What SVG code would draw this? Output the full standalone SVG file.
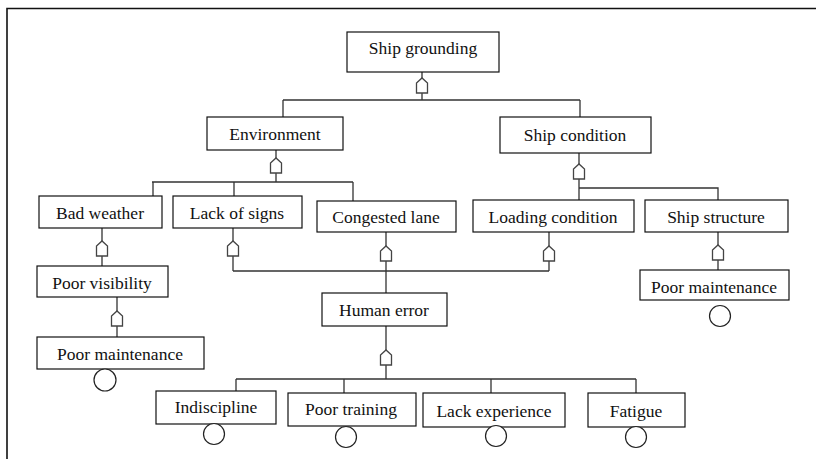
<svg xmlns="http://www.w3.org/2000/svg" xmlns:xlink="http://www.w3.org/1999/xlink" width="816" height="459" viewBox="0 0 816 459">
<style>
.box{fill:#fff;stroke:#111;stroke-width:1.2}
.lbl{font-family:"Liberation Serif","Times New Roman",serif;font-size:17.5px;fill:#111;text-anchor:middle}
.ln{stroke:#333;stroke-width:1.3;fill:none}
.gate{fill:#fff;stroke:#444;stroke-width:1.3}
.ev{fill:#fff;stroke:#222;stroke-width:1.2}
</style>
<defs>
<path id="g" class="gate" d="M-5.5,15 V5 L0,0 L5.5,5 V15 Z"/>
</defs>
<rect width="816" height="459" fill="#fff"/>
<path d="M7,459 V8.5 H816" stroke="#111" stroke-width="1.6" fill="none"/>
<g id="connectors">
<path class="ln" d="M422,72V78 M422,93V100 M283,100H580 M283,100V117 M580,100V117"/>
<use xlink:href="#g" x="422" y="78"/>
<path class="ln" d="M276,150V158 M276,173V182 M152,182H353 M153,182V196 M234,182V196 M353,182V201"/>
<use xlink:href="#g" x="276" y="158"/>
<path class="ln" d="M579,153V164 M579,179V200 M579,188H718V200"/>
<use xlink:href="#g" x="579" y="164"/>
<path class="ln" d="M102,228V241 M102,256V266"/>
<use xlink:href="#g" x="102" y="241"/>
<path class="ln" d="M117,297V311 M117,326V337"/>
<use xlink:href="#g" x="117" y="311"/>
<path class="ln" d="M233,228V241 M233,256V271 M386,232V246 M386,261V293 M549,232V246 M549,261V271 M233,271H549"/>
<use xlink:href="#g" x="233" y="241"/>
<use xlink:href="#g" x="386" y="246"/>
<use xlink:href="#g" x="549" y="246"/>
<path class="ln" d="M386,326V350 M386,365V379 M236,379H636 M236,379V391 M344,379V393 M491,379V393 M636,379V393"/>
<use xlink:href="#g" x="386" y="350"/>
<path class="ln" d="M718,232V245 M718,260V270"/>
<use xlink:href="#g" x="718" y="245"/>
</g>
<g id="n-ship-grounding"><rect class="box" x="347" y="32" width="152" height="40"/><text class="lbl" x="423" y="54">Ship grounding</text></g>
<g id="n-environment"><rect class="box" x="207" y="117" width="136" height="33"/><text class="lbl" x="275" y="140">Environment</text></g>
<g id="n-ship-condition"><rect class="box" x="500" y="117" width="151" height="36"/><text class="lbl" x="575" y="141">Ship condition</text></g>
<g id="n-bad-weather"><rect class="box" x="39" y="196" width="123" height="32"/><text class="lbl" x="100" y="219">Bad weather</text></g>
<g id="n-lack-of-signs"><rect class="box" x="173" y="196" width="129" height="32"/><text class="lbl" x="237" y="219">Lack of signs</text></g>
<g id="n-congested-lane"><rect class="box" x="317" y="201" width="139" height="31"/><text class="lbl" x="386" y="223">Congested lane</text></g>
<g id="n-loading-condition"><rect class="box" x="473" y="200" width="161" height="32"/><text class="lbl" x="553" y="223">Loading condition</text></g>
<g id="n-ship-structure"><rect class="box" x="645" y="200" width="143" height="32"/><text class="lbl" x="716" y="223">Ship structure</text></g>
<g id="n-poor-visibility"><rect class="box" x="37" y="266" width="131" height="31"/><text class="lbl" x="102" y="289">Poor visibility</text></g>
<g id="n-poor-maintenance-1"><rect class="box" x="37" y="337" width="167" height="32"/><text class="lbl" x="120" y="360">Poor maintenance</text><circle class="ev" cx="105" cy="380" r="11"/></g>
<g id="n-poor-maintenance-2"><rect class="box" x="640" y="270" width="149" height="30"/><text class="lbl" x="714" y="293">Poor maintenance</text><circle class="ev" cx="720" cy="316" r="10.5"/></g>
<g id="n-human-error"><rect class="box" x="322" y="293" width="125" height="33"/><text class="lbl" x="384" y="316">Human error</text></g>
<g id="n-indiscipline"><rect class="box" x="156" y="391" width="120" height="33"/><text class="lbl" x="216" y="413">Indiscipline</text><circle class="ev" cx="214" cy="434" r="10.5"/></g>
<g id="n-poor-training"><rect class="box" x="288" y="393" width="128" height="33"/><text class="lbl" x="351" y="415">Poor training</text><circle class="ev" cx="346" cy="437" r="10.5"/></g>
<g id="n-lack-experience"><rect class="box" x="423" y="393" width="142" height="34"/><text class="lbl" x="494" y="417">Lack experience</text><circle class="ev" cx="496" cy="436" r="10.5"/></g>
<g id="n-fatigue"><rect class="box" x="588" y="393" width="97" height="34"/><text class="lbl" x="636" y="417">Fatigue</text><circle class="ev" cx="636" cy="437" r="10.5"/></g>
</svg>
